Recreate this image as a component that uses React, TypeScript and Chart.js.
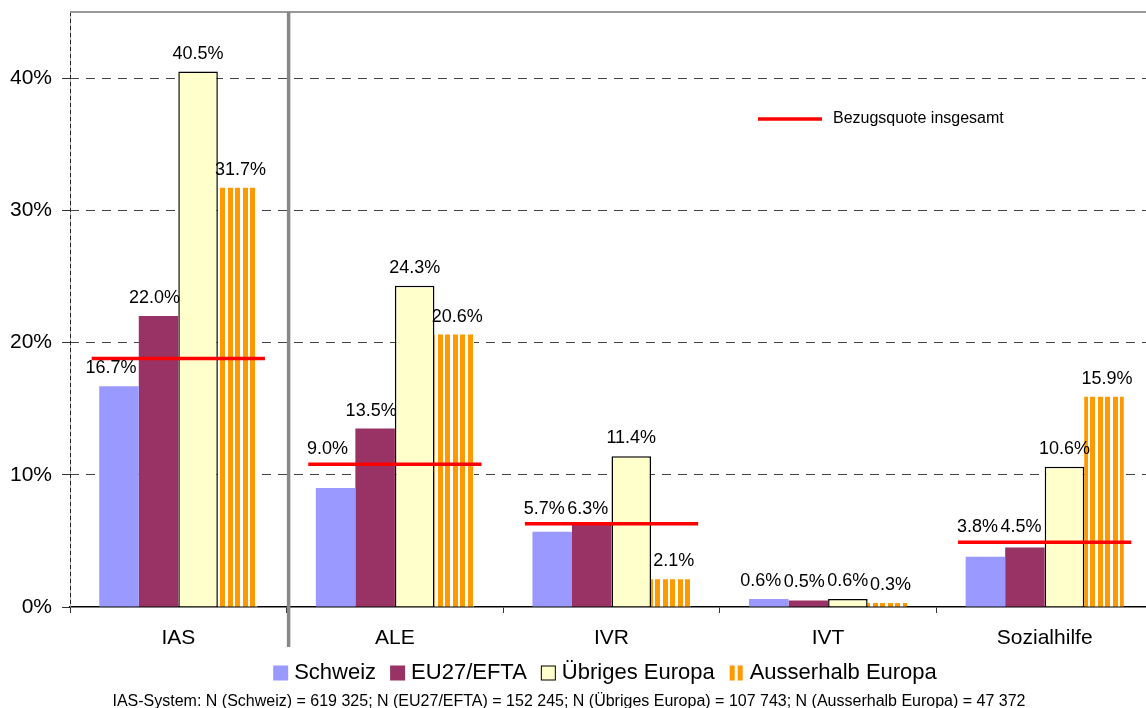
import React, { useEffect, useRef } from 'react';
import { Chart, registerables } from 'chart.js';

Chart.register(...registerables);

// ---------- data ----------
const categories = ['IAS', 'ALE', 'IVR', 'IVT', 'Sozialhilfe'];
const seriesNames = ['Schweiz', 'EU27/EFTA', 'Übriges Europa', 'Ausserhalb Europa'];
const schweiz = [16.7, 9.0, 5.7, 0.6, 3.8];
const euEfta = [22.0, 13.5, 6.3, 0.5, 4.5];
const uebrigesEuropa = [40.5, 24.3, 11.4, 0.6, 10.6];
const ausserhalbEuropa = [31.7, 20.6, 2.1, 0.3, 15.9];
const totals: (number | null)[] = [18.8, 10.8, 6.3, null, 4.9];
const totalLabel = 'Bezugsquote insgesamt';
const yTickValues = [0, 10, 20, 30, 40];
const footnote =
  'IAS-System: N (Schweiz) = 619 325; N (EU27/EFTA) = 152 245; N (Übriges Europa) = 107 743; N (Ausserhalb Europa) = 47 372';

// ---------- styles ----------
const FONT = '"Liberation Sans", Arial, Helvetica, sans-serif';
const C_SCHWEIZ = '#9999FF';
const C_EU = '#993366';
const C_UEB = '#FFFFCC';
const C_ORANGE = '#FF9900';
const C_RED = '#FF0000';
const labelShift = [-8, -4, 0, 3];
const HALF_LINE = 0.4;

function makeStripes(): CanvasPattern | string {
  const c = document.createElement('canvas');
  c.width = 15;
  c.height = 8;
  const g = c.getContext('2d');
  if (!g) return C_ORANGE;
  g.fillStyle = '#ffffff';
  g.fillRect(0, 0, 15, 8);
  g.fillStyle = C_ORANGE;
  g.fillRect(3, 0, 5, 8);
  g.fillRect(10, 0, 5, 8);
  return g.createPattern(c, 'repeat') || C_ORANGE;
}

const decorPlugin = {
  id: 'decor',
  beforeDatasetsDraw(chart: any) {
    const ctx = chart.ctx;
    const area = chart.chartArea;
    ctx.save();
    // left axis: light solid underlay + dark dashes
    ctx.strokeStyle = '#aaa';
    ctx.lineWidth = 1;
    ctx.beginPath();
    ctx.moveTo(area.left + 0.5, area.top);
    ctx.lineTo(area.left + 0.5, area.bottom);
    ctx.stroke();
    ctx.strokeStyle = '#222';
    ctx.setLineDash([4, 3]);
    ctx.beginPath();
    ctx.moveTo(area.left + 0.5, area.top);
    ctx.lineTo(area.left + 0.5, area.bottom);
    ctx.stroke();
    ctx.restore();
  },
  afterDatasetsDraw(chart: any) {
    const ctx = chart.ctx;
    const ys = chart.scales.y;
    const series = [schweiz, euEfta, uebrigesEuropa, ausserhalbEuropa];
    ctx.save();
    ctx.font = `18px ${FONT}`;
    ctx.fillStyle = '#000';
    ctx.textAlign = 'center';
    ctx.textBaseline = 'alphabetic';
    for (let d = 0; d < 4; d++) {
      const meta = chart.getDatasetMeta(d);
      meta.data.forEach((el: any, i: number) => {
        const v = series[d][i];
        const top = el.y;
        let base = top - 13;
        const t = totals[i];
        if (t != null) {
          const ry = ys.getPixelForValue(t);
          if (ry >= top - 26 && ry <= top + 2) base = ry - 10;
        }
        ctx.fillText(v.toFixed(1) + '%', el.x + labelShift[d], base);
      });
    }
    ctx.restore();
  },
  afterDraw(chart: any) {
    const ctx = chart.ctx;
    const area = chart.chartArea;
    const xs = chart.scales.x;
    ctx.save();
    // top frame line
    ctx.strokeStyle = '#999';
    ctx.lineWidth = 2;
    ctx.beginPath();
    ctx.moveTo(area.left, area.top);
    ctx.lineTo(area.right, area.top);
    ctx.stroke();
    // separator between IAS and the others
    const sep = (xs.getPixelForValue(0) + xs.getPixelForValue(1)) / 2 + 2;
    ctx.strokeStyle = '#888';
    ctx.lineWidth = 3.5;
    ctx.beginPath();
    ctx.moveTo(sep, area.top);
    ctx.lineTo(sep, area.bottom + 40);
    ctx.stroke();

    // inner legend for total line
    ctx.strokeStyle = C_RED;
    ctx.lineWidth = 3.5;
    ctx.beginPath();
    ctx.moveTo(758, 119);
    ctx.lineTo(822, 119);
    ctx.stroke();
    ctx.fillStyle = '#000';
    ctx.font = `16px ${FONT}`;
    ctx.textAlign = 'left';
    ctx.textBaseline = 'middle';
    ctx.fillText(totalLabel, 833, 119);

    // bottom legend
    ctx.font = `22px ${FONT}`;
    const box = 15;
    const gapText = 6;
    const gapItem = 14;
    const widths = seriesNames.map((n) => box + gapText + ctx.measureText(n).width);
    const total = widths.reduce((a, b) => a + b, 0) + gapItem * (seriesNames.length - 1);
    let x = 605 - total / 2;
    const ly = 673;
    seriesNames.forEach((n, k) => {
      const bx = x;
      const by = ly - box / 2;
      if (k === 0) {
        ctx.fillStyle = C_SCHWEIZ;
        ctx.fillRect(bx, by, box, box);
      } else if (k === 1) {
        ctx.fillStyle = C_EU;
        ctx.fillRect(bx, by, box, box);
      } else if (k === 2) {
        ctx.fillStyle = C_UEB;
        ctx.fillRect(bx, by, box, box);
        ctx.strokeStyle = '#000';
        ctx.lineWidth = 1;
        ctx.strokeRect(bx + 0.5, by + 0.5, box - 1, box - 1);
      } else {
        ctx.fillStyle = C_ORANGE;
        ctx.fillRect(bx + 1, by, 5, box);
        ctx.fillRect(bx + 9, by, 5, box);
      }
      ctx.fillStyle = '#000';
      ctx.textAlign = 'left';
      ctx.textBaseline = 'middle';
      ctx.fillText(n, bx + box + gapText, ly);
      x += widths[k] + gapItem;
    });

    // footnote
    ctx.font = `16px ${FONT}`;
    ctx.textAlign = 'center';
    ctx.textBaseline = 'alphabetic';
    ctx.fillStyle = '#000';
    ctx.fillText(footnote, 569, 706);
    ctx.restore();
  },
};

export default function App() {
  const ref = useRef<HTMLCanvasElement | null>(null);

  useEffect(() => {
    if (!ref.current) return;
    const stripes = makeStripes();
    // total line: one horizontal segment per category, in category-index units
    const lineData: any[] = [];
    totals.forEach((t, i) => {
      if (t == null) return;
      lineData.push({ x: i - HALF_LINE, y: t }, { x: i + HALF_LINE, y: t }, { x: i + HALF_LINE + 0.01, y: null });
    });

    const barCommon = {
      type: 'bar' as const,
      categoryPercentage: 0.73,
      barPercentage: 1.0,
      order: 1,
    };

    const chart = new Chart(ref.current, {
      type: 'bar',
      data: {
        labels: categories,
        datasets: [
          { ...barCommon, label: seriesNames[0], data: schweiz, backgroundColor: C_SCHWEIZ, borderWidth: 0 },
          { ...barCommon, label: seriesNames[1], data: euEfta, backgroundColor: C_EU, borderWidth: 0 },
          {
            ...barCommon,
            label: seriesNames[2],
            data: uebrigesEuropa,
            backgroundColor: C_UEB,
            borderColor: '#000',
            borderWidth: 1.5,
          },
          { ...barCommon, label: seriesNames[3], data: ausserhalbEuropa, backgroundColor: stripes as any, borderWidth: 0 },
          {
            type: 'line' as const,
            label: totalLabel,
            data: lineData,
            parsing: false,
            borderColor: C_RED,
            backgroundColor: C_RED,
            borderWidth: 3.5,
            pointRadius: 0,
            spanGaps: false,
            borderCapStyle: 'butt',
            order: 0,
          } as any,
        ],
      },
      options: {
        responsive: false,
        animation: false,
        events: [],
        layout: { padding: { top: 12, right: 7, left: 0, bottom: 0 } },
        font: { family: FONT },
        plugins: {
          legend: { display: false },
          tooltip: { enabled: false },
          title: { display: false },
        },
        scales: {
          x: {
            type: 'category',
            offset: true,
            grid: {
              offset: true,
              drawOnChartArea: false,
              tickColor: '#333',
              tickLength: 6,
              lineWidth: 1,
            },
            border: { color: '#000', width: 1.5 },
            ticks: {
              color: '#000',
              font: { family: FONT, size: 21 },
              padding: 13,
              maxRotation: 0,
              autoSkip: false,
            },
            afterFit: (s: any) => {
              s.height = 101;
              s.paddingLeft = 0;
              s.paddingRight = 0;
            },
          },
          y: {
            type: 'linear',
            min: 0,
            max: 45,
            afterBuildTicks: (s: any) => {
              s.ticks = [...yTickValues, 45].map((v) => ({ value: v }));
            },
            ticks: {
              color: '#000',
              font: { family: FONT, size: 21 },
              padding: 10,
              callback: (v: any) => (yTickValues.includes(Number(v)) ? `${v}%` : ''),
            },
            grid: {
              color: (c: any) =>
                c.tick && (c.tick.value === 0 || c.tick.value === 45) ? 'rgba(0,0,0,0)' : '#444',
              tickColor: (c: any) => (c.tick && c.tick.value === 45 ? 'rgba(0,0,0,0)' : '#333'),
              tickLength: 8,
              lineWidth: 1,
            },
            border: { display: false, dash: [9, 7] },
            afterFit: (s: any) => {
              s.width = 70;
              s.paddingTop = 0;
              s.paddingBottom = 0;
            },
          },
        },
      } as any,
      plugins: [decorPlugin],
    });

    return () => chart.destroy();
  }, []);

  return (
    <div
      style={{
        position: 'fixed',
        left: 0,
        top: 0,
        width: 1146,
        height: 708,
        overflow: 'hidden',
        background: '#fff',
      }}
    >
      <canvas ref={ref} width={1160} height={708} style={{ display: 'block' }} />
    </div>
  );
}
